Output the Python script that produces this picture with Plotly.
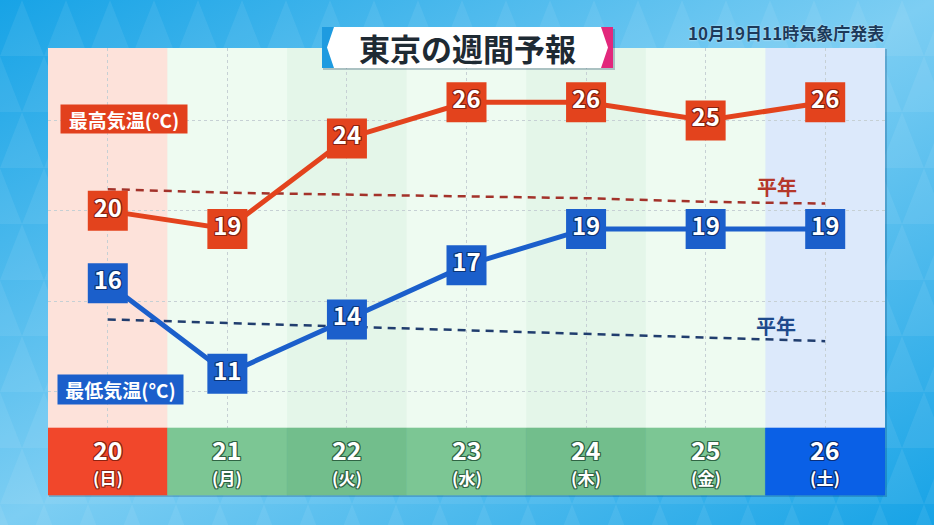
import base64
import plotly.graph_objects as go

# ---------------- data ----------------
days = ["20", "21", "22", "23", "24", "25", "26"]
weekdays = ["日", "月", "火", "水", "木", "金", "土"]
max_temp = [20, 19, 24, 26, 26, 25, 26]
min_temp = [16, 11, 14, 17, 19, 19, 19]
max_normal = [21.2, 21.0, 20.9, 20.8, 20.7, 20.5, 20.4]
min_normal = [14.0, 13.8, 13.6, 13.4, 13.2, 13.0, 12.8]
title_text = "東京の週間予報"
issued_text = "10月19日11時気象庁発表"
max_label = "最高気温(°C)"
min_label = "最低気温(°C)"
normal_label = "平年"

# ---------------- styles ----------------
col_bg = ["#FDE2DA", "#EEFBF1", "#E4F6E9", "#EEFBF1", "#E4F6E9", "#EEFBF1", "#DCE9FB"]
cell_bg = ["#F1472B", "#7CC694", "#72BE8C", "#7CC694", "#72BE8C", "#7CC694", "#0A60E6"]
cell_outline = ["#8E2412", "#2F6444", "#2F6444", "#2F6444", "#2F6444", "#2F6444", "#0B2F78"]
RED = "#E3431D"
BLUE = "#1B5FCB"
FONT = "Noto Sans CJK JP, Noto Sans, sans-serif"

W, H = 934, 525


def px(x):
    return x / W


def py(y):
    return 1 - y / H


def outline(c, w=1):
    offs = [(-w, -w), (w, -w), (-w, w), (w, w), (0, w), (0, -w), (w, 0), (-w, 0)]
    return ", ".join(f"{dx}px {dy}px 0 {c}" for dx, dy in offs)


# background (gradient + triangle texture) as an svg image
tri = []
b, h = 44, 56
for r in range(0, 11):
    off = (b / 2) if r % 2 else 0
    y0, y1 = r * h, (r + 1) * h
    for k in range(-1, 23):
        xa = k * b + off
        tri.append(f"M{xa:.1f},{y1} L{xa + b:.1f},{y1} L{xa + b / 2:.1f},{y0} Z")
svg = (
    f'<svg xmlns="http://www.w3.org/2000/svg" width="{W}" height="{H}" viewBox="0 0 {W} {H}">'
    '<defs><linearGradient id="g" x1="0" y1="0" x2="1" y2="1">'
    '<stop offset="0" stop-color="#17A3E6"/><stop offset="0.5" stop-color="#7DCEF3"/>'
    '<stop offset="1" stop-color="#17A3E6"/></linearGradient></defs>'
    f'<rect width="{W}" height="{H}" fill="url(#g)"/>'
    f'<path d="{" ".join(tri)}" fill="#ffffff" fill-opacity="0.07"/></svg>'
)
bg_uri = "data:image/svg+xml;base64," + base64.b64encode(svg.encode()).decode()

fig = go.Figure()

# normals (dashed)
fig.add_trace(go.Scatter(x=days, y=max_normal, mode="lines", hoverinfo="skip",
                         line=dict(color="#A3322A", width=2.5, dash="8px,6px")))
fig.add_trace(go.Scatter(x=days, y=min_normal, mode="lines", hoverinfo="skip",
                         line=dict(color="#203D6E", width=2.5, dash="8px,6px")))

# forecasts
fig.add_trace(go.Scatter(
    x=days, y=max_temp, mode="lines+markers+text", hoverinfo="skip",
    line=dict(color=RED, width=5),
    marker=dict(symbol="square", size=40, color=RED),
    text=[str(v) for v in max_temp], textposition="middle center",
    textfont=dict(family=FONT, size=24, color="white", weight=700, shadow=outline("#8A2210")),
))
fig.add_trace(go.Scatter(
    x=days, y=min_temp, mode="lines+markers+text", hoverinfo="skip",
    line=dict(color=BLUE, width=5),
    marker=dict(symbol="square", size=40, color=BLUE),
    text=[str(v) for v in min_temp], textposition="middle center",
    textfont=dict(family=FONT, size=24, color="white", weight=700, shadow=outline("#0C3578")),
))

shapes = []
# panel shadow and base
shapes.append(dict(type="rect", xref="paper", yref="paper", x0=px(49), x1=px(887),
                   y0=py(497), y1=py(49), fillcolor="rgba(0,40,90,0.22)", line=dict(width=0),
                   layer="below"))
shapes.append(dict(type="rect", xref="paper", yref="paper", x0=px(48), x1=px(885),
                   y0=py(428), y1=py(48), fillcolor="#E9F9EE", line=dict(width=0),
                   layer="below"))
# column backgrounds
for i in range(len(days)):
    shapes.append(dict(type="rect", xref="x", yref="paper", x0=i - 0.5, x1=i + 0.5,
                       y0=py(428), y1=py(48), fillcolor=col_bg[i], line=dict(width=0),
                       layer="below"))
# date cells
for i in range(len(days)):
    shapes.append(dict(type="rect", xref="x", yref="paper", x0=i - 0.5, x1=i + 0.5,
                       y0=py(495), y1=py(428), fillcolor=cell_bg[i],
                       line=dict(width=0.6, color=cell_bg[i]), layer="above"))
# title box
shapes.append(dict(type="rect", xref="paper", yref="paper", x0=px(323), x1=px(615),
                   y0=py(70), y1=py(29), fillcolor="rgba(0,40,80,0.25)", line=dict(width=0),
                   layer="above"))
shapes.append(dict(type="rect", xref="paper", yref="paper", x0=px(322), x1=px(613),
                   y0=py(68), y1=py(27), fillcolor="white", line=dict(width=0), layer="above"))


def ppath(pts):
    return "M " + " L ".join(f"{px(x):.5f},{py(y):.5f}" for x, y in pts) + " Z"


shapes.append(dict(type="path", xref="paper", yref="paper",
                   path=ppath([(322, 27), (334, 27), (327, 47.5), (334, 68), (322, 68)]),
                   fillcolor="#1E9BE0", line=dict(width=0), layer="above"))
shapes.append(dict(type="path", xref="paper", yref="paper",
                   path=ppath([(613, 27), (601, 27), (608, 47.5), (601, 68), (613, 68)]),
                   fillcolor="#E2287C", line=dict(width=0), layer="above"))

annotations = []
annotations.append(dict(xref="paper", yref="paper", x=px(467), y=py(47.5), text=title_text,
                        showarrow=False, xanchor="center", yanchor="middle",
                        font=dict(family=FONT, size=31, color="#1E2A33", weight=700)))
annotations.append(dict(xref="paper", yref="paper", x=px(886), y=py(32), text=issued_text,
                        showarrow=False, xanchor="right", yanchor="middle",
                        font=dict(family=FONT, size=17, color="#1C3A5A", weight=700,
                                  shadow="0 0 2px rgba(255,255,255,0.7)")))
# series labels
annotations.append(dict(xref="paper", yref="paper", x=px(124), y=py(119), text=max_label,
                        showarrow=False, xanchor="center", yanchor="middle",
                        width=122, height=24, borderpad=2, bgcolor="#E2401D",
                        font=dict(family=FONT, size=19, color="white", weight=700)))
annotations.append(dict(xref="paper", yref="paper", x=px(120.5), y=py(389.5), text=min_label,
                        showarrow=False, xanchor="center", yanchor="middle",
                        width=121, height=25, borderpad=2, bgcolor="#1B5FCB",
                        font=dict(family=FONT, size=19, color="white", weight=700)))
# normal labels
annotations.append(dict(xref="paper", yref="paper", x=px(777), y=py(186), text=normal_label,
                        showarrow=False, xanchor="center", yanchor="middle",
                        font=dict(family=FONT, size=20, color="#B5382A", weight=700)))
annotations.append(dict(xref="paper", yref="paper", x=px(776), y=py(325), text=normal_label,
                        showarrow=False, xanchor="center", yanchor="middle",
                        font=dict(family=FONT, size=20, color="#1E4A8C", weight=700)))
# date labels (x given as category index)
for i, (d, wd) in enumerate(zip(days, weekdays)):
    annotations.append(dict(xref="x", yref="paper", x=i, y=py(449), text=d,
                            showarrow=False, xanchor="center", yanchor="middle",
                            font=dict(family=FONT, size=25, color="white", weight=700,
                                      shadow=outline(cell_outline[i]))))
    annotations.append(dict(xref="x", yref="paper", x=i, y=py(477), text=f"({wd})",
                            showarrow=False, xanchor="center", yanchor="middle",
                            font=dict(family=FONT, size=17, color="white", weight=700,
                                      shadow=outline(cell_outline[i]))))

fig.update_layout(
    width=W, height=H, margin=dict(l=0, r=0, t=0, b=0),
    paper_bgcolor="#4DB8EC", plot_bgcolor="rgba(0,0,0,0)",
    showlegend=False,
    images=[dict(source=bg_uri, xref="paper", yref="paper", x=0, y=1, sizex=1, sizey=1,
                 xanchor="left", yanchor="top", sizing="stretch", layer="below")],
    shapes=shapes, annotations=annotations,
    xaxis=dict(type="category", range=[-0.5, 6.5], domain=[px(48), px(885)],
               showgrid=True, gridcolor="#C6D0D4", griddash="dot", gridwidth=1.3,
               showticklabels=False, ticks="", showline=False, zeroline=False, fixedrange=True),
    yaxis=dict(range=[8, 29], domain=[py(428), py(48)], tick0=0, dtick=5,
               showgrid=True, gridcolor="#C6D0D4", griddash="dot", gridwidth=1.3,
               showticklabels=False, ticks="", showline=False, zeroline=False, fixedrange=True),
    font=dict(family=FONT),
)

fig.write_html("out.html")
